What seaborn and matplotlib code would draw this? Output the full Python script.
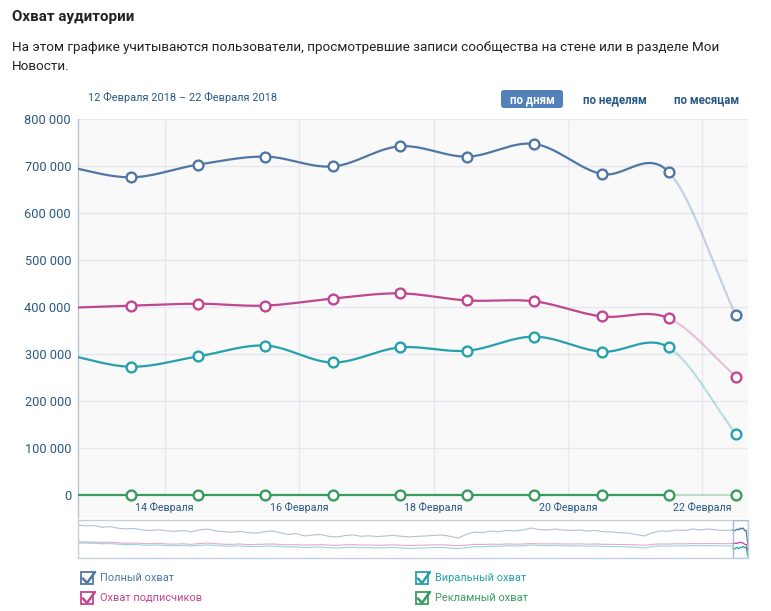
import numpy as np
import pandas as pd
import matplotlib
matplotlib.use("Agg")
import matplotlib.pyplot as plt
import seaborn as sns
from matplotlib.patches import Rectangle, FancyBboxPatch

sns.set_theme(style="white")
plt.rcParams['font.family'] = ['Roboto', 'DejaVu Sans']

# ---------------- data ----------------
day_pos = [-1, 0, 1, 2, 3, 4, 5, 6, 7, 8, 9]          # -1 = point left of view
full_reach = [700000, 676000, 703000, 720000, 699000, 742000, 720000, 747000, 683000, 687000, 382000]
subs_reach = [398000, 403000, 407000, 403000, 418000, 429000, 414000, 412000, 380000, 376000, 252000]
viral_reach = [300000, 273000, 295000, 318000, 282000, 314000, 307000, 337000, 305000, 314000, 130000]
ads_reach = [0, 0, 0, 0, 0, 0, 0, 0, 0, 0, 0]

series_names = ["Полный охват", "Охват подписчиков", "Виральный охват", "Рекламный охват"]
series_colors = ["#4f77a6", "#c0468f", "#25a1ad", "#3a9b5e"]

x_tick_pos = [0.5, 2.5, 4.5, 6.5, 8.5]
x_tick_labels = ["14 Февраля", "16 Февраля", "18 Февраля", "20 Февраля", "22 Февраля"]
y_ticks = [0, 100000, 200000, 300000, 400000, 500000, 600000, 700000, 800000]
y_tick_labels = ["0", "100 000", "200 000", "300 000", "400 000", "500 000", "600 000", "700 000", "800 000"]

# navigator overview (thousands)
nav_full = [811, 790, 800, 760, 775, 740, 725, 735, 700, 690, 705, 680, 670, 690, 660, 700, 722, 680,
            665, 650, 670, 640, 630, 660, 678, 640, 600, 620, 567, 590, 600, 560, 545, 575, 590, 560,
            570, 555, 567, 580, 560, 545, 560, 567, 580, 589, 560, 522, 600, 656, 640, 678, 660, 690,
            678, 700, 744, 710, 700, 720, 700, 690, 700, 678, 690, 660, 656, 640, 633, 600, 567, 640,
            678, 670, 700, 690, 720, 700, 722, 700, 690, 700]
nav_subs = [440, 435, 430, 425, 430, 415, 405, 410, 400, 395, 405, 390, 385, 395, 380, 400, 410, 395,
            385, 380, 390, 375, 380, 385, 390, 380, 370, 375, 365, 370, 375, 365, 360, 370, 375, 365,
            368, 360, 365, 370, 362, 355, 360, 365, 370, 372, 362, 350, 365, 380, 378, 385, 380, 390,
            385, 388, 400, 392, 390, 395, 390, 388, 392, 385, 390, 382, 380, 378, 375, 370, 360, 380,
            390, 388, 395, 392, 400, 395, 400, 398, 395, 400]
nav_viral = [411, 408, 405, 395, 398, 385, 375, 378, 365, 360, 368, 355, 350, 358, 345, 360, 370, 355,
             345, 340, 348, 335, 330, 340, 345, 335, 320, 325, 310, 318, 322, 305, 298, 310, 318, 305,
             308, 300, 305, 312, 300, 290, 298, 302, 310, 312, 300, 285, 305, 330, 325, 340, 335, 350,
             345, 348, 367, 355, 350, 358, 350, 345, 350, 340, 345, 335, 332, 328, 325, 315, 300, 330,
             345, 340, 350, 345, 355, 348, 355, 350, 345, 350]

# ---------------- helpers ----------------
W, H = 771, 611


def fx(px):
    return px / W


def fy(py):
    return 1 - py / H


def smooth_segments(xs, ys, n=30):
    xs = np.asarray(xs, float)
    ys = np.asarray(ys, float)
    m = np.zeros_like(ys)
    m[1:-1] = (ys[2:] - ys[:-2]) / (xs[2:] - xs[:-2])
    m[0] = (ys[1] - ys[0]) / (xs[1] - xs[0])
    m[-1] = (ys[-1] - ys[-2]) / (xs[-1] - xs[-2])
    segs = []
    t = np.linspace(0, 1, n)
    h00 = 2 * t**3 - 3 * t**2 + 1
    h10 = t**3 - 2 * t**2 + t
    h01 = -2 * t**3 + 3 * t**2
    h11 = t**3 - t**2
    for i in range(len(xs) - 1):
        dx = xs[i + 1] - xs[i]
        sx = xs[i] + t * dx
        sy = h00 * ys[i] + h10 * dx * m[i] + h01 * ys[i + 1] + h11 * dx * m[i + 1]
        segs.append((sx, sy))
    return segs


# ---------------- figure ----------------
fig = plt.figure(figsize=(W / 100, H / 100), dpi=100)
fig.patch.set_facecolor("white")

ax = fig.add_axes([fx(78), fy(518), fx(748) - fx(78), (518 - 119) / H])
ax.set_facecolor("#f9f9fa")
x_left = -53 / 67.2
x_right = 9 + 12 / 67.2
ax.set_xlim(x_left, x_right)
ax.set_ylim(-48900, 800000)

# grid
for yv in y_ticks[1:]:
    ax.axhline(yv, color="#e6e8ee", lw=1, zorder=0)
ax.vlines(x_tick_pos, 0, 800000, color="#e6e8ee", lw=1, zorder=0)

all_series = [full_reach, subs_reach, viral_reach, ads_reach]
for vals, col in zip(all_series, series_colors):
    segs = smooth_segments(day_pos, vals)
    solid_x = np.concatenate([s[0][:-1] for s in segs[:-1]] + [segs[-2][0][-1:]])
    solid_y = np.concatenate([s[1][:-1] for s in segs[:-1]] + [segs[-2][1][-1:]])
    sns.lineplot(x=solid_x, y=solid_y, color=col, lw=1.6, sort=False, estimator=None, ax=ax, zorder=3)
    sns.lineplot(x=segs[-1][0], y=segs[-1][1], color=col, alpha=0.3, lw=1.6, sort=False,
                 estimator=None, ax=ax, zorder=3)
    sns.scatterplot(x=day_pos[1:], y=vals[1:], color="white", edgecolor=col, s=50, linewidth=1.7,
                    ax=ax, zorder=5, clip_on=False)

ax.set_xticks(x_tick_pos)
ax.set_xticklabels(x_tick_labels)
ax.set_yticks(y_ticks)
ax.set_yticklabels(y_tick_labels)
ax.tick_params(axis="both", length=0, labelcolor="#2a5885")
ax.tick_params(axis="y", pad=5, labelsize=9.2)
ax.tick_params(axis="x", pad=-11.5, labelsize=7.7)
for s in ["top", "right", "bottom"]:
    ax.spines[s].set_visible(False)
ax.spines["left"].set_color("#b8c6d6")
ax.spines["left"].set_linewidth(1)
ax.set_xlabel("")
ax.set_ylabel("")

# ---------------- navigator ----------------
nav = fig.add_axes([fx(78), fy(558), fx(748) - fx(78), 38 / H])
nav.set_facecolor("white")
units_per_px = (x_right - x_left) / 15.0
nav_left = x_right - 670 * units_per_px
nav.set_xlim(nav_left, x_right)
nav.set_ylim(78000, 922000)
for arr, col in zip([nav_full, nav_subs, nav_viral], series_colors[:3]):
    xs = np.linspace(nav_left, x_left, len(arr))
    sns.lineplot(x=xs, y=np.array(arr) * 1000, color=col, alpha=0.45, lw=0.8, sort=False,
                 estimator=None, ax=nav)
for vals, col in zip(all_series[:3], series_colors[:3]):
    sns.lineplot(x=day_pos, y=vals, color=col, lw=0.9, sort=False, estimator=None, ax=nav)
nav.add_patch(Rectangle((x_left, 78000), x_right - x_left, 844000, fill=False,
                        edgecolor="#a9b9cc", lw=1, zorder=6))
for s in nav.spines.values():
    s.set_color("#c3cfdc")
    s.set_linewidth(1)
nav.set_xticks([])
nav.set_yticks([])
nav.set_xlabel("")
nav.set_ylabel("")

# ---------------- decorations ----------------
ov = fig.add_axes([0, 0, 1, 1], zorder=-1)
ov.set_xlim(0, W)
ov.set_ylim(H, 0)
ov.axis("off")

fig.text(fx(12), fy(17), "Охват аудитории", fontsize=10.9, fontweight="bold", color="#222222",
         va="center", ha="left")
fig.text(fx(12), fy(47), "На этом графике учитываются пользователи, просмотревшие записи сообщества на стене или в разделе Мои",
         fontsize=9.7, color="#222222", va="center", ha="left")
fig.text(fx(12), fy(66), "Новости.", fontsize=9.7, color="#222222", va="center", ha="left")
fig.text(fx(88), fy(97), "12 Февраля 2018 – 22 Февраля 2018", fontsize=7.9, color="#2a5885",
         va="center", ha="left")

ov.add_patch(FancyBboxPatch((501, 90), 62, 18, boxstyle="round,pad=0,rounding_size=3",
                            facecolor="#5181b8", edgecolor="none"))
fig.text(fx(532), fy(99.5), "по дням", fontsize=8.3, fontweight="bold", color="white",
         va="center", ha="center")
fig.text(fx(614.5), fy(99.5), "по неделям", fontsize=8.3, fontweight="bold", color="#2a5885",
         va="center", ha="center")
fig.text(fx(707), fy(99.5), "по месяцам", fontsize=8.3, fontweight="bold", color="#2a5885",
         va="center", ha="center")

# legend (checkboxes)
ov2 = fig.add_axes([0, 0, 1, 1], zorder=10)
ov2.set_xlim(0, W)
ov2.set_ylim(H, 0)
ov2.axis("off")
legend_pos = [(81, 578), (81, 598), (416, 578), (416, 598)]
for (lx, ly), name, col in zip(legend_pos, series_names, series_colors):
    ov2.add_patch(Rectangle((lx, ly - 6), 12, 12, fill=False, edgecolor=col, lw=1.3))
    ov2.plot([lx + 2, lx + 6, lx + 14], [ly + 0.5, ly + 5, ly - 6], color=col, lw=1.8,
             solid_capstyle="round", solid_joinstyle="round")
    fig.text(fx(lx + 19), fy(ly), name, fontsize=7.9, color=col, va="center", ha="left")

fig.savefig("out.png", dpi=100)
